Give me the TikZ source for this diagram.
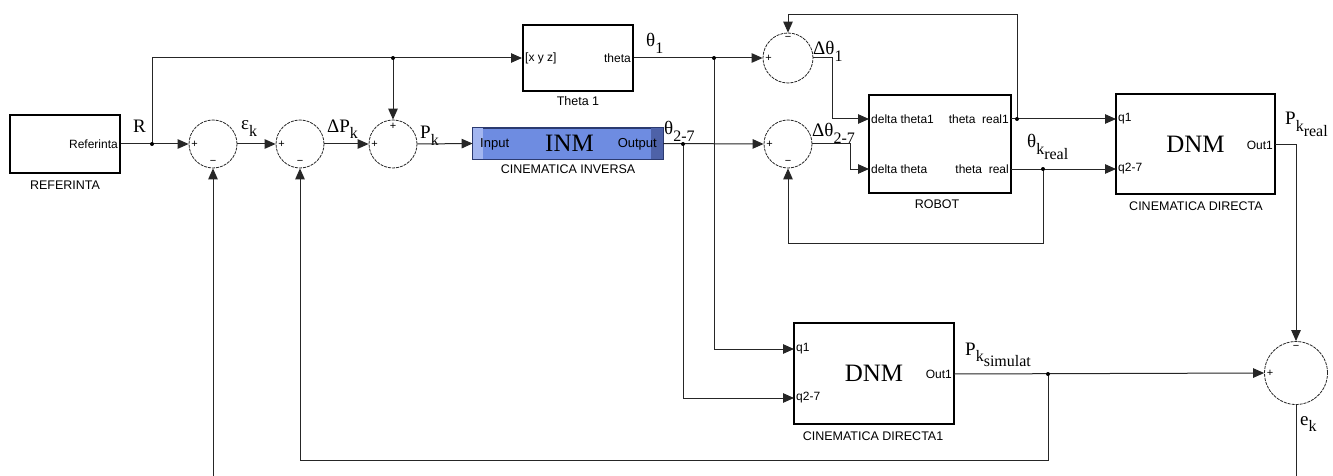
\documentclass[tikz,border=0pt]{standalone}
\usepackage{fontspec}
\setmainfont{Liberation Serif}
\setsansfont{Liberation Sans}
\usetikzlibrary{arrows.meta,calc}
\newcommand\sbs[1]{\raisebox{-0.33em}{\fontsize{16}{16}\selectfont #1}}
\definecolor{inmmain}{HTML}{6E8CE1}
\definecolor{inmlight}{HTML}{A3B6F0}
\definecolor{inmdark}{HTML}{4E62A8}
\definecolor{inmedge}{HTML}{2B3A70}
\begin{document}
\begin{tikzpicture}[x=1pt,y=-1pt,
  wire/.style={line width=1pt,draw=black!85},
  arr/.style={wire,-{Triangle[length=11pt,width=9.5pt]}},
  blk/.style={draw,line width=2pt,inner sep=0pt,fill=white},
  sumc/.style={circle,draw=black!85,line width=0.8pt,dash pattern=on 3pt off 1pt,inner sep=0pt},
  port/.style={font=\fontsize{12}{12}\selectfont\sffamily,inner sep=0pt},
  blkcap/.style={font=\fontsize{12.5}{13}\selectfont\sffamily,inner sep=0pt},
  sig/.style={font=\fontsize{19}{19}\selectfont,inner sep=0pt,anchor=base west},
  big/.style={font=\fontsize{25}{25}\selectfont,inner sep=0pt},
  sgn/.style={font=\fontsize{11}{11}\selectfont\sffamily,inner sep=0pt},
  jdot/.style={circle,fill=black,inner sep=0pt,minimum size=4pt}
]
\fill[white] (0,0) rectangle (1333,476);
\useasboundingbox (0,0) rectangle (1333,476);

% blocks
\node[blk,minimum width=110pt,minimum height=58pt] (ref) at (65,144) {};
\node[blk,minimum width=110pt,minimum height=66pt] (th1) at (578,58) {};
\node[draw=inmedge,line width=0.8pt,fill=inmmain,minimum width=190pt,minimum height=31pt,inner sep=0pt] (inm) at (568,143.5) {};
\fill[inmlight] ($(inm.north west)+(0.4,0)$) rectangle ($(inm.south west)+(10,0)$);
\fill[inmdark] ($(inm.north east)+(-12,0)$) rectangle ($(inm.south east)+(-0.4,0)$);
\draw[inmedge,line width=0.8pt] (inm.north west) rectangle (inm.south east);
\node[big] (inmtxt) at (569.5,143.5) {INM};
\node[blk,minimum width=142pt,minimum height=98pt] (robot) at (940,144) {};
\node[blk,big,minimum width=159pt,minimum height=100pt] (dnm1) at (1195.5,144) {DNM};
\node[blk,big,minimum width=160pt,minimum height=101pt] (dnm2) at (874,373.5) {DNM};

% sums
\node[sumc,minimum size=48pt] (s1) at (213,144) {};
\node[sumc,minimum size=48pt] (s2) at (300,144) {};
\node[sumc,minimum size=48pt] (s3) at (393,144) {};
\node[sumc,minimum size=50pt] (s4) at (788,58) {};
\node[sumc,minimum size=48pt] (s5) at (788,144) {};
\node[sumc,minimum size=63pt] (s6) at (1296,373) {};

% signs
\node[sgn] at ($(s1.west)+(6,0)$) {+};
\node[sgn] at ($(s1.south)+(0,-6)$) {\textminus};
\node[sgn] at ($(s2.west)+(6,0)$) {+};
\node[sgn] at ($(s2.south)+(0,-6)$) {\textminus};
\node[sgn] at ($(s3.west)+(6,0)$) {+};
\node[sgn] at ($(s3.north)+(0,7)$) {+};
\node[sgn] at ($(s4.west)+(6,0)$) {+};
\node[sgn] at ($(s4.north)+(0,6)$) {\textminus};
\node[sgn] at ($(s5.west)+(6,0)$) {+};
\node[sgn] at ($(s5.south)+(0,-6)$) {\textminus};
\node[sgn] at ($(s6.west)+(6,0)$) {+};
\node[sgn] at ($(s6.north)+(0,6)$) {\textminus};

% ports
\coordinate (rin1) at (869,119);
\coordinate (rin2) at (869,169);
\coordinate (rout1) at (1011,119);
\coordinate (rout2) at (1011,169);
\coordinate (d1q1) at (1116,119);
\coordinate (d1q2) at (1116,169);
\coordinate (d1out) at (1275,145);
\coordinate (d2q1) at (794,349);
\coordinate (d2q2) at (794,398);
\coordinate (d2out) at (954,374);

% port labels
\node[port,anchor=east] at (118,144) {Referinta};
\node[port,anchor=west] at (525,58) {[x y z]};
\node[port,anchor=east] at (631,58) {theta};
\node[port,anchor=west,font=\fontsize{13}{13}\selectfont\sffamily] at (480,144) {Input};
\node[port,anchor=east,font=\fontsize{13}{13}\selectfont\sffamily] at (657,144) {Output};
\node[port,anchor=west] at ($(rin1)+(2,0)$) {delta theta1};
\node[port,anchor=west] at ($(rin2)+(2,0)$) {delta theta};
\node[port,anchor=east] at ($(rout1)+(-2,0)$) {theta\ \ real1};
\node[port,anchor=east] at ($(rout2)+(-2,0)$) {theta\ \ real};
\node[port,anchor=west] at ($(d1q1)+(2,0)$) {q1};
\node[port,anchor=west] at ($(d1q2)+(2,0)$) {q2-7};
\node[port,anchor=east] at ($(d1out)+(-2,0)$) {Out1};
\node[port,anchor=west] at ($(d2q1)+(2,0)$) {q1};
\node[port,anchor=west] at ($(d2q2)+(2,0)$) {q2-7};
\node[port,anchor=east] at ($(d2out)+(-2,0)$) {Out1};

% captions
\node[blkcap] at (65,185) {REFERINTA};
\node[blkcap] at (578,101) {Theta 1};
\node[blkcap] at (568,169) {CINEMATICA INVERSA};
\node[blkcap] at (937,204) {ROBOT};
\node[blkcap] at (1196,206) {CINEMATICA DIRECTA};
\node[blkcap] at (873,436) {CINEMATICA DIRECTA1};

% signal labels
\node[sig] at (133,133) {R};
\node[sig] at (241,130) {ε\sbs{k}};
\node[sig] at (327,132) {ΔP\sbs{k}};
\node[sig] at (420,139) {P\sbs{k}};
\node[sig] at (646,47) {θ\sbs{1}};
\node[sig] at (664,135) {θ\sbs{2-7}};
\node[sig] at (813,55) {Δθ\sbs{1}};
\node[sig] at (812,137) {Δθ\sbs{2-7}};
\node[sig] at (1027,148) {θ\sbs{k\sbs{real}}};
\node[sig] at (1285,125) {P\sbs{k\sbs{real}}};
\node[sig] at (965,355) {P\sbs{k\sbs{simulat}}};
\node[sig] at (1300,425) {e\sbs{k}};

% junctions
\coordinate (jR) at (152,144);
\coordinate (jT) at (393,58);
\coordinate (j1) at (714,58);
\coordinate (j2) at (683,144);
\coordinate (j4) at (1017,119);
\coordinate (j5) at (1043,169);
\coordinate (j6) at (1048,374);
\coordinate (bot1) at (213,476);
\coordinate (bot6) at (1296,476);

% wires
\draw[arr] (ref.east) -- (s1.west);
\draw[arr] (jR) |- (th1.west);
\draw[arr] (jT) -- (s3.north);
\draw[arr] (s1.east) -- (s2.west);
\draw[arr] (s2.east) -- (s3.west);
\draw[arr] (s3.east) -- (inm.west);
\draw[arr] (th1.east) -- (s4.west);
\draw[arr] (j1) |- (d2q1);
\draw[arr] (inm.east) -- (s5.west);
\draw[arr] (j2) |- (d2q2);
\draw[arr] (s4.east) -- ++(19,0) |- (rin1);
\draw[arr] (s5.east) -- ++(38,0) |- (rin2);
\draw[arr] (rout1) -- (d1q1);
\draw[arr] (rout2) -- (d1q2);
\draw[arr] (j4) -- ++(0,-104) -| (s4.north);
\draw[arr] (j5) -- ++(0,74) -| (s5.south);
\draw[arr] (d1out) -| (s6.north);
\draw[arr] (d2out) -- (s6.west);
\draw[arr] (j6) -- ++(0,86) -| (s2.south);
\draw[arr] (bot1) -- (s1.south);
\draw[wire] (s6.south) -- (bot6);

\foreach \j in {jR,jT,j1,j2,j4,j5,j6} \node[jdot] at (\j) {};
\end{tikzpicture}
\end{document}
